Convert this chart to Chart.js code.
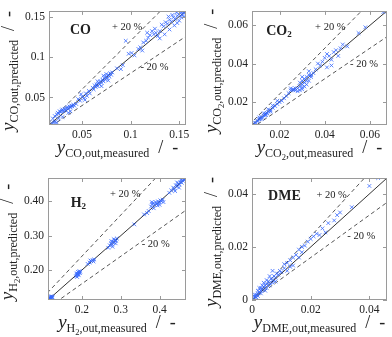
<!DOCTYPE html>
<html>
<head>
<meta charset="utf-8">
<script src="https://cdn.jsdelivr.net/npm/chart.js@4.4.0/dist/chart.umd.min.js"></script>
<style>
html, body { margin: 0; padding: 0; background: #fff; }
#wrap { position: relative; width: 392px; height: 337px; }
canvas { position: absolute; left: 0; top: 0; }
</style>
</head>
<body>
<div id="wrap">
	<canvas id="c_co" width="392" height="337"></canvas>
	<canvas id="c_co2" width="392" height="337"></canvas>
	<canvas id="c_h2" width="392" height="337"></canvas>
	<canvas id="c_dme" width="392" height="337"></canvas>
</div>
<script>
// ---- data ----
const co_measured = [0.019,0.021,0.022,0.024,0.020,0.022,0.024,0.025,0.026,0.027,0.028,0.029,0.030,0.031,0.032,0.033,0.034,0.035,0.036,0.037,0.038,0.039,0.040,0.041,0.042,0.036,0.038,0.030,0.026,0.044,
	0.046,0.048,0.050,0.052,0.054,0.055,0.057,0.058,0.049,0.053,
	0.061,0.062,0.063,0.064,0.065,0.066,0.067,0.068,0.069,0.070,0.071,0.072,0.073,0.074,0.075,0.076,0.077,0.078,0.079,0.080,0.081,0.075,0.072,0.077,0.070,0.066,
	0.086,0.090,0.092,0.095,0.098,0.101,0.104,0.108,0.110,0.112,0.113,0.116,0.118,0.120,0.117,0.122,0.124,0.126,0.128,0.125,
	0.130,0.132,0.134,0.136,0.138,0.140,0.142,0.144,0.146,0.148,0.150,0.152,0.153,0.154,0.155,0.147,0.143,0.139,0.150,0.152,0.148,0.140,0.145,0.135,0.155,0.130]
const co_predicted = [0.018,0.019,0.020,0.019,0.024,0.027,0.029,0.031,0.030,0.033,0.032,0.034,0.035,0.033,0.036,0.034,0.037,0.038,0.036,0.039,0.038,0.040,0.039,0.041,0.040,0.031,0.033,0.026,0.024,0.042,
	0.048,0.046,0.051,0.049,0.055,0.052,0.058,0.055,0.054,0.047,
	0.062,0.060,0.065,0.063,0.066,0.064,0.068,0.066,0.070,0.068,0.072,0.070,0.074,0.072,0.076,0.074,0.078,0.076,0.080,0.078,0.081,0.079,0.077,0.071,0.064,0.070,
	0.086,0.085,0.090,0.120,0.104,0.105,0.102,0.110,0.112,0.108,0.118,0.120,0.124,0.127,0.130,0.132,0.128,0.130,0.126,0.135,
	0.132,0.140,0.138,0.143,0.141,0.146,0.144,0.149,0.147,0.151,0.153,0.155,0.152,0.156,0.154,0.155,0.152,0.150,0.145,0.149,0.142,0.134,0.139,0.128,0.150,0.123]

const co2_measured = [0.0085,0.009,0.0095,0.010,0.0105,0.011,0.0115,0.012,0.0125,0.013,0.0135,0.014,0.0145,0.015,0.016,0.017,0.018,0.019,0.020,0.021,0.022,0.011,0.013,0.015,0.017,0.019,0.012,0.014,0.016,
	0.023,0.024,0.025,0.026,0.027,0.025,
	0.027,0.028,0.029,0.030,0.028,0.029,0.030,0.031,0.032,0.030,0.031,0.032,0.033,0.031,0.032,0.029,0.030,0.033,0.034,0.035,0.033,0.034,0.026,0.030,
	0.036,0.037,0.038,0.039,0.040,0.041,0.042,0.043,0.044,0.045,0.047,0.048,0.050,0.043,0.041,0.046,
	0.055,0.058,0.066]
const co2_predicted = [0.0082,0.0088,0.0090,0.0098,0.0100,0.0108,0.0110,0.0118,0.0120,0.0128,0.0130,0.0138,0.0140,0.0148,0.0155,0.0168,0.0178,0.0188,0.0198,0.0205,0.0218,0.0118,0.0140,0.0160,0.0180,0.0205,0.0110,0.0130,0.0148,
	0.023,0.0245,0.026,0.0265,0.027,0.027,
	0.026,0.0255,0.026,0.0265,0.027,0.028,0.029,0.030,0.031,0.031,0.032,0.033,0.034,0.028,0.029,0.030,0.033,0.031,0.033,0.035,0.036,0.034,0.0262,0.0275,
	0.037,0.040,0.039,0.041,0.043,0.045,0.044,0.042,0.046,0.047,0.048,0.050,0.049,0.039,0.038,0.044,
	0.056,0.059,0.067]

const h2_measured = [0.115,0.117,0.119,0.121,0.123,0.118,0.120,0.122,0.125,0.116,0.124,0.119,
	0.185,0.187,0.189,0.191,0.193,0.195,0.190,0.188,0.194,0.196,0.192,0.186,
	0.215,0.220,0.224,0.228,0.232,0.222,0.230,
	0.268,0.272,0.275,0.278,0.280,0.283,0.285,0.288,0.290,0.276,0.282,0.287,0.279,
	0.335,0.360,0.368,0.372,
	0.378,0.381,0.384,0.387,0.390,0.393,0.396,0.399,0.402,0.405,0.408,0.410,0.385,0.395,0.380,0.400,
	0.425,0.430,0.435,0.438,0.442,0.445,0.448,0.451,0.454,0.457,0.460,0.463,0.466,0.440,0.450,0.445,0.455,0.462]
const h2_predicted = [0.115,0.118,0.116,0.120,0.122,0.121,0.117,0.124,0.121,0.119,0.119,0.123,
	0.182,0.186,0.190,0.188,0.193,0.191,0.195,0.180,0.197,0.195,0.185,0.190,
	0.218,0.222,0.226,0.229,0.231,0.228,0.225,
	0.265,0.272,0.278,0.274,0.283,0.280,0.288,0.285,0.292,0.284,0.290,0.278,0.268,
	0.333,0.362,0.366,0.372,
	0.385,0.392,0.395,0.390,0.398,0.393,0.400,0.396,0.403,0.400,0.405,0.398,0.380,0.388,0.398,0.390,
	0.425,0.432,0.440,0.436,0.447,0.443,0.452,0.449,0.456,0.454,0.460,0.462,0.465,0.430,0.440,0.455,0.462,0.466]

const dme_measured = [0.0005,0.001,0.0015,0.002,0.0025,0.003,0.001,0.002,0.003,0.0035,0.004,0.0045,0.005,0.0055,0.006,0.0065,0.007,0.0075,0.008,0.0085,0.009,0.0095,0.010,0.004,0.005,0.006,0.007,0.003,0.005,0.007,0.0015,0.002,0.0045,0.006,0.008,0.0035,0.0025,0.0008,
	0.011,0.012,0.013,0.013,0.014,0.015,0.016,0.017,0.017,0.012,0.014,0.016,0.011,0.018,
	0.019,0.020,0.021,0.022,0.023,0.025,0.024,0.026,0.028,0.029,0.030,0.034,0.040,0.043]
const dme_predicted = [0.0005,0.0012,0.002,0.0025,0.003,0.0035,0.002,0.0035,0.0045,0.004,0.005,0.0055,0.006,0.007,0.0065,0.008,0.0075,0.009,0.0085,0.010,0.0095,0.011,0.0105,0.0065,0.0075,0.009,0.011,0.0025,0.0045,0.0065,0.001,0.0015,0.0035,0.0055,0.007,0.0055,0.0045,0.0015,
	0.012,0.014,0.015,0.0125,0.016,0.017,0.019,0.018,0.020,0.011,0.013,0.016,0.0135,0.0205,
	0.022,0.023,0.024,0.025,0.0245,0.0255,0.027,0.029,0.030,0.032,0.033,0.035,0.043,0.046]

const co_ticks = [0.05, 0.1, 0.15]
const co_tick_labels = ['0.05', '0.1', '0.15']
const co2_ticks = [0.02, 0.04, 0.06]
const co2_tick_labels = ['0.02', '0.04', '0.06']
const h2_ticks = [0.2, 0.3, 0.4]
const h2_x_tick_labels = ['0.2', '0.3', '0.4']
const h2_y_tick_labels = ['0.20', '0.30', '0.40']
const dme_ticks = [0, 0.02, 0.04]
const dme_tick_labels = ['0', '0.02', '0.04']

const band_factors = [1.2, 0.8]

// ---- drawing helpers ----
const serif = '"Liberation Serif", "DejaVu Serif", serif'

function draw_parts(ctx, parts, x, y) {
	let total = 0
	parts.forEach(p => { ctx.font = p.font; p.w = ctx.measureText(p.text).width; total += p.w })
	let cx = x - total / 2
	parts.forEach(p => { ctx.font = p.font; ctx.fillText(p.text, cx, y + (p.dy || 0)); cx += p.w })
}

function sub_parts(species, kind) {
	let parts = [{ text: 'y', font: 'italic 19px ' + serif }]
	species.forEach(s => parts.push({ text: s.text, font: (s.small ? '8.5px ' : '12px ') + serif, dy: s.small ? 6.5 : 4 }))
	parts.push({ text: ',out,' + kind, font: '12px ' + serif, dy: 4 })
	parts.push({ text: '  /  -', font: '18px ' + serif })
	return parts
}

function label_parts(species) {
	return species.map(s => ({ text: s.text, font: s.small ? 'bold 9px ' + serif : 'bold 14px ' + serif, dy: s.small ? 3 : 0 }))
}

const parity_plugin = {
	id: 'parity',
	afterDraw(chart, args, opts) {
		const ctx = chart.ctx
		const a = chart.chartArea
		ctx.save()
		// frame
		ctx.strokeStyle = '#9a9a9a'
		ctx.lineWidth = 1
		ctx.strokeRect(Math.round(a.left) + 0.5, Math.round(a.top) + 0.5, Math.round(a.width) - 1, Math.round(a.height) - 1)
		// inward ticks on all four sides
		ctx.beginPath()
		chart.scales.x.ticks.forEach(t => {
			const px = Math.round(chart.scales.x.getPixelForValue(t.value)) + 0.5
			ctx.moveTo(px, a.bottom); ctx.lineTo(px, a.bottom - 4)
			ctx.moveTo(px, a.top); ctx.lineTo(px, a.top + 4)
		})
		chart.scales.y.ticks.forEach(t => {
			const py = Math.round(chart.scales.y.getPixelForValue(t.value)) + 0.5
			ctx.moveTo(a.left, py); ctx.lineTo(a.left + 4, py)
			ctx.moveTo(a.right, py); ctx.lineTo(a.right - 4, py)
		})
		ctx.stroke()
		// axis titles
		ctx.fillStyle = '#222'
		ctx.textBaseline = 'alphabetic'
		draw_parts(ctx, sub_parts(opts.species, 'measured'), (a.left + a.right) / 2, a.bottom + 28)
		ctx.save()
		ctx.translate(a.left - 35, (a.top + a.bottom) / 2 + 3)
		ctx.rotate(-Math.PI / 2)
		draw_parts(ctx, sub_parts(opts.species, 'predicted'), 0, 0)
		ctx.restore()
		// species label and band notes
		ctx.textBaseline = 'middle'
		draw_parts(ctx, label_parts(opts.species), a.left + a.width * opts.name_at[0], a.top + a.height * opts.name_at[1])
		ctx.font = '10.5px ' + serif
		ctx.textAlign = 'center'
		ctx.fillText('+ 20 %', a.left + a.width * opts.plus_at[0], a.top + a.height * opts.plus_at[1])
		ctx.fillText('- 20 %', a.left + a.width * opts.minus_at[0], a.top + a.height * opts.minus_at[1])
		ctx.restore()
	}
}

function construct_parity(canvas_id, measured, predicted, range, ticks, x_labels, y_labels, area, note) {
	const points = measured.map((m, i) => ({ x: m, y: predicted[i] }))
	const datasets = [{
		data: points,
		pointStyle: 'crossRot',
		pointRadius: 2.6,
		borderWidth: 1,
		borderColor: 'rgba(55,105,255,0.8)',
		backgroundColor: 'rgba(55,105,255,0.8)',
		showLine: false
	}, {
		data: [{ x: range[0], y: range[0] }, { x: range[1], y: range[1] }],
		showLine: true, pointRadius: 0, borderColor: '#333', borderWidth: 1
	}]
	band_factors.forEach(f => datasets.push({
		data: [{ x: 0, y: 0 }, { x: range[1] * 1.3, y: range[1] * 1.3 * f }],
		showLine: true, pointRadius: 0, borderColor: '#555', borderWidth: 1, borderDash: [4, 3]
	}))

	const axis = (labels, is_y) => ({
		type: 'linear',
		min: range[0],
		max: range[1],
		afterBuildTicks: scale => { scale.ticks = ticks.map(v => ({ value: v })) },
		afterFit: scale => { if (is_y) scale.width = 44; else scale.height = 24 },
		grid: { display: false, drawTicks: false },
		border: { display: false },
		ticks: {
			padding: is_y ? 4 : 3,
			color: '#222',
			font: { family: serif, size: 11.5 },
			callback: (v, i) => labels[i]
		}
	})

	new Chart(document.getElementById(canvas_id), {
		type: 'scatter',
		data: { datasets: datasets },
		options: {
			responsive: false,
			animation: false,
			events: [],
			layout: { padding: { left: area[0] - 44, top: area[1], right: 392 - area[2], bottom: 337 - area[3] - 24 } },
			scales: { x: axis(x_labels, false), y: axis(y_labels, true) },
			plugins: { legend: { display: false }, tooltip: { enabled: false }, parity: note }
		},
		plugins: [parity_plugin]
	})
}

construct_parity('c_co', co_measured, co_predicted, [0.016, 0.157], co_ticks, co_tick_labels, co_tick_labels,
	[49, 3, 186, 125],
	{ species: [{ text: 'CO' }], name_at: [0.23, 0.17], plus_at: [0.57, 0.14], minus_at: [0.77, 0.49] })
construct_parity('c_co2', co2_measured, co2_predicted, [0.0078, 0.0676], co2_ticks, co2_tick_labels, co2_tick_labels,
	[252, 3, 389, 125],
	{ species: [{ text: 'CO' }, { text: '2', small: true }], name_at: [0.2, 0.18], plus_at: [0.58, 0.14], minus_at: [0.83, 0.47] })
construct_parity('c_h2', h2_measured, h2_predicted, [0.113, 0.468], h2_ticks, h2_x_tick_labels, h2_y_tick_labels,
	[48, 178, 186, 300],
	{ species: [{ text: 'H' }, { text: '2', small: true }], name_at: [0.22, 0.21], plus_at: [0.56, 0.13], minus_at: [0.78, 0.54] })
construct_parity('c_dme', dme_measured, dme_predicted, [0, 0.046], dme_ticks, dme_tick_labels, dme_tick_labels,
	[252, 178, 389, 300],
	{ species: [{ text: 'DME' }], name_at: [0.24, 0.15], plus_at: [0.59, 0.14], minus_at: [0.81, 0.48] })
</script>
</body>
</html>
